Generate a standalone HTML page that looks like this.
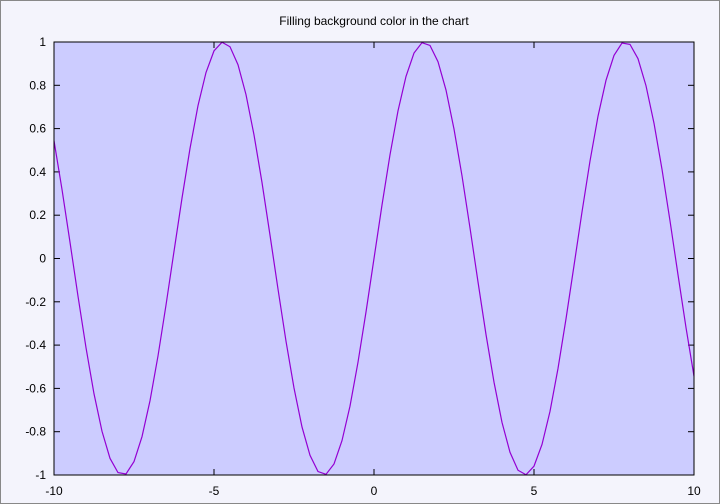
<!DOCTYPE html>
<html><head><meta charset="utf-8"><style>
html,body{margin:0;padding:0;background:#f4f4fc;}
svg{display:block;font-family:"Liberation Sans",sans-serif;}
</style></head><body>
<svg id="chart" width="720" height="504">
<rect x="0.5" y="0.5" width="719" height="503" fill="#f4f4fc" stroke="#888"/>
<text x="374" y="25" font-size="12" text-anchor="middle">Filling background color in the chart</text>
<rect x="54" y="42" width="640" height="433" fill="#ccccff"/>
<g id="ticks"></g>
<path id="line" fill="none" stroke="#9400d3" stroke-width="1.2"/>
<rect x="54" y="42" width="640" height="433" fill="none" stroke="#000" stroke-width="1"/>
</svg>
<script>
const xTicks=[-10,-5,0,5,10];
const yTicks=[-1,-0.8,-0.6,-0.4,-0.2,0,0.2,0.4,0.6,0.8,1];
const yTickLabels=["-1","-0.8","-0.6","-0.4","-0.2","0","0.2","0.4","0.6","0.8","1"];
const xs=[-10,-9.75,-9.5,-9.25,-9,-8.75,-8.5,-8.25,-8,-7.75,-7.5,-7.25,-7,-6.75,-6.5,-6.25,-6,-5.75,-5.5,-5.25,-5,-4.75,-4.5,-4.25,-4,-3.75,-3.5,-3.25,-3,-2.75,-2.5,-2.25,-2,-1.75,-1.5,-1.25,-1,-0.75,-0.5,-0.25,0,0.25,0.5,0.75,1,1.25,1.5,1.75,2,2.25,2.5,2.75,3,3.25,3.5,3.75,4,4.25,4.5,4.75,5,5.25,5.5,5.75,6,6.25,6.5,6.75,7,7.25,7.5,7.75,8,8.25,8.5,8.75,9,9.25,9.5,9.75,10];
const ys=[0.544,0.319,0.075,-0.174,-0.412,-0.625,-0.798,-0.923,-0.989,-0.995,-0.938,-0.823,-0.657,-0.450,-0.215,0.033,0.279,0.508,0.706,0.859,0.959,0.999,0.978,0.895,0.757,0.571,0.351,0.108,-0.141,-0.382,-0.598,-0.778,-0.909,-0.984,-0.997,-0.949,-0.841,-0.682,-0.479,-0.247,0,0.247,0.479,0.682,0.841,0.949,0.997,0.984,0.909,0.778,0.598,0.382,0.141,-0.108,-0.351,-0.571,-0.757,-0.895,-0.978,-0.999,-0.959,-0.859,-0.706,-0.508,-0.279,-0.033,0.215,0.450,0.657,0.823,0.938,0.995,0.989,0.923,0.798,0.625,0.412,0.174,-0.075,-0.319,-0.544];
const L=54,R=694,T=42,B=475;
const sx=v=>L+(v+10)/20*(R-L);
const sy=v=>B-(v+1)/2*(B-T);
const NS="http://www.w3.org/2000/svg";
const g=document.getElementById('ticks');
function mk(tag,attrs){const e=document.createElementNS(NS,tag);for(const k in attrs)e.setAttribute(k,attrs[k]);g.appendChild(e);return e;}
xTicks.forEach(v=>{
  const x=sx(v);
  const t1=mk('line',{x1:x,x2:x,y1:B,y2:B-6,stroke:'#000'});
  
  
  const t2=mk('line',{x1:x,x2:x,y1:T,y2:T+6,stroke:'#000'});
  
  
  const tx=mk('text',{x:x,y:B+20,'font-size':12,'text-anchor':'middle'});
  tx.textContent=String(v);
  
  
});
yTicks.forEach((v,i)=>{
  const y=sy(v);
  const t1=mk('line',{x1:L,x2:L+6,y1:y,y2:y,stroke:'#000'});
  
  
  const t2=mk('line',{x1:R,x2:R-6,y1:y,y2:y,stroke:'#000'});
  
  
  const tx=mk('text',{x:L-8,y:y+4,'font-size':12,'text-anchor':'end'});
  tx.textContent=yTickLabels[i];
  
  
});
document.getElementById('line').setAttribute('d',xs.map((x,i)=>(i?'L':'M')+sx(x).toFixed(2)+','+sy(ys[i]).toFixed(2)).join(''));
</script>
</body></html>
